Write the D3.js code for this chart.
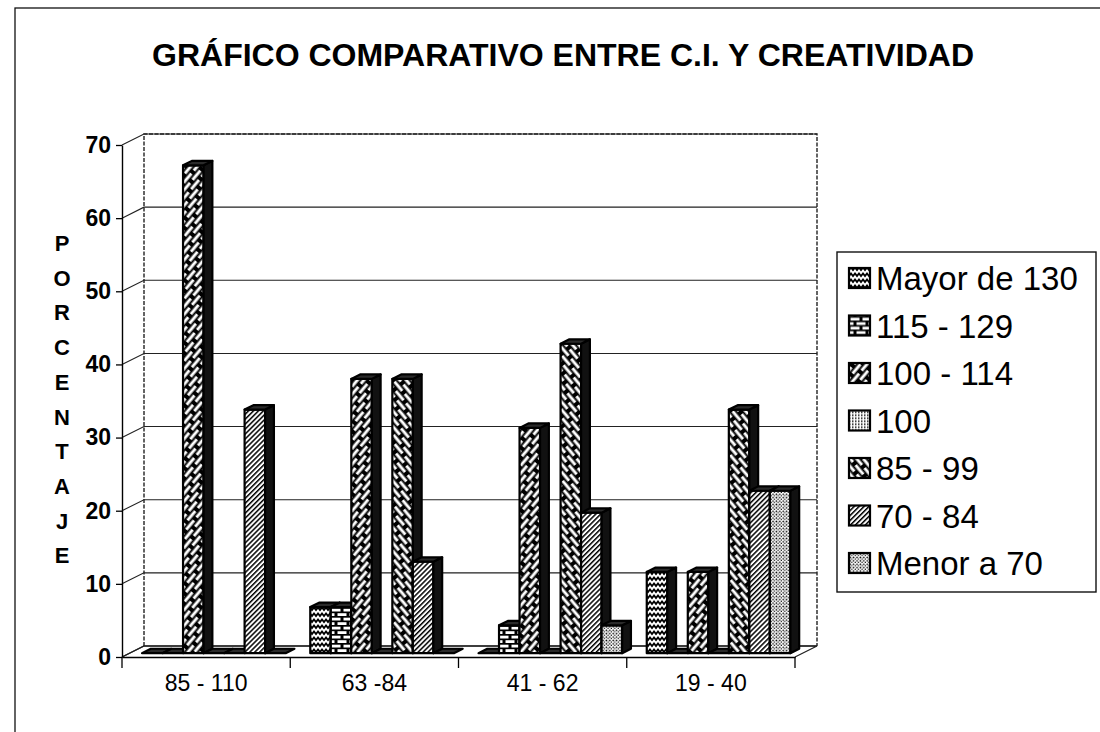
<!DOCTYPE html>
<html>
<head>
<meta charset="utf-8">
<title>Gráfico comparativo entre C.I. y creatividad</title>
<script src="https://cdn.jsdelivr.net/npm/d3@7"></script>
<style>
    body { margin: 0; background: #fff; }
    svg { display: block; font-family: "Liberation Sans", Arial, sans-serif; }
    .tick text { fill: #000; }
</style>
</head>
<body>
<svg width="1100" height="732"></svg>

<script>
    // datos
    const categories = ["85 - 110", "63 -84", "41 - 62", "19 - 40"];
    const seriesNames = ["Mayor de 130", "115 - 129", "100 - 114", "100", "85 - 99", "70 - 84", "Menor a 70"];
    const mayor130 = [0, 6.3, 0, 11.1];
    const r115_129 = [0, 6.3, 3.8, 0];
    const r100_114 = [66.7, 37.5, 30.8, 11.1];
    const r100 = [0, 0, 0, 0];
    const r85_99 = [0, 37.5, 42.3, 33.3];
    const r70_84 = [33.3, 12.5, 19.2, 22.2];
    const menor70 = [0, 0, 3.8, 22.2];
    const yTicks = [0, 10, 20, 30, 40, 50, 60, 70];
    const axisTitle = "PORCENTAJE";

    const seriesValues = [mayor130, r115_129, r100_114, r100, r85_99, r70_84, menor70];
    const patternIds = ["pWave", "pBrick", "pWeaveA", "pFine", "pWeaveB", "pStripe", "pDots"];

    const svg = d3.select("svg");

    // marco exterior
    svg.append("rect")
        .attr("x", 15).attr("y", 8)
        .attr("width", 1100).attr("height", 760)
        .attr("fill", "none").attr("stroke", "#111").attr("stroke-width", 1.3);

    // tramas
    const defs = svg.append("defs");

    let p = defs.append("pattern").attr("id", "pWave").attr("patternUnits", "userSpaceOnUse")
        .attr("width", 8).attr("height", 6);
    p.append("rect").attr("width", 8).attr("height", 6).attr("fill", "#fff");
    p.append("path").attr("d", "M-2,1.5 L0,4 L2,1.5 L4,4 L6,1.5 L8,4 L10,1.5")
        .attr("fill", "none").attr("stroke", "#000").attr("stroke-width", 1.8);

    p = defs.append("pattern").attr("id", "pBrick").attr("patternUnits", "userSpaceOnUse")
        .attr("width", 12).attr("height", 9);
    p.append("rect").attr("width", 12).attr("height", 9).attr("fill", "#000");
    p.append("rect").attr("x", 1.5).attr("y", 1.2).attr("width", 9).attr("height", 2.8).attr("fill", "#fff");
    p.append("rect").attr("x", -4.5).attr("y", 5.7).attr("width", 9).attr("height", 2.8).attr("fill", "#fff");
    p.append("rect").attr("x", 7.5).attr("y", 5.7).attr("width", 9).attr("height", 2.8).attr("fill", "#fff");

    function weave(id, angle) {
        const q = defs.append("pattern").attr("id", id).attr("patternUnits", "userSpaceOnUse")
            .attr("width", 16).attr("height", 10)
            .attr("patternTransform", `rotate(${angle})`);
        q.append("rect").attr("width", 16).attr("height", 10).attr("fill", "#000");
        q.append("rect").attr("x", 2).attr("y", 1.6).attr("width", 12).attr("height", 3).attr("fill", "#fff");
        q.append("rect").attr("x", -6).attr("y", 6.6).attr("width", 12).attr("height", 3).attr("fill", "#fff");
        q.append("rect").attr("x", 10).attr("y", 6.6).attr("width", 12).attr("height", 3).attr("fill", "#fff");
    }
    weave("pWeaveA", -50);
    weave("pWeaveB", 50);

    p = defs.append("pattern").attr("id", "pFine").attr("patternUnits", "userSpaceOnUse")
        .attr("width", 3).attr("height", 3);
    p.append("rect").attr("width", 3).attr("height", 3).attr("fill", "#fff");
    p.append("rect").attr("width", 1.5).attr("height", 1.5).attr("fill", "#000");

    p = defs.append("pattern").attr("id", "pStripe").attr("patternUnits", "userSpaceOnUse")
        .attr("width", 3.5).attr("height", 3.5).attr("patternTransform", "rotate(45)");
    p.append("rect").attr("width", 3.5).attr("height", 3.5).attr("fill", "#fff");
    p.append("rect").attr("width", 1.5).attr("height", 3.5).attr("fill", "#000");

    p = defs.append("pattern").attr("id", "pDots").attr("patternUnits", "userSpaceOnUse")
        .attr("width", 3.4).attr("height", 3.4);
    p.append("rect").attr("width", 3.4).attr("height", 3.4).attr("fill", "#fff");
    p.append("circle").attr("cx", 1.2).attr("cy", 1.2).attr("r", 0.85).attr("fill", "#000");
    p.append("circle").attr("cx", 2.9).attr("cy", 2.9).attr("r", 0.7).attr("fill", "#000");

    // escalas (plano frontal) y profundidad 3D
    const x = d3.scaleBand().domain(categories).range([122, 795]).padding(0);
    const xs = d3.scaleBand().domain(seriesNames).range([0, x.bandwidth()])
        .paddingInner(0).paddingOuter(0.6);
    const y = d3.scaleLinear().domain([0, 70]).range([657, 145]);
    const DX = 22, DY = -11;
    const f0 = 0.35, f1 = 0.75;

    const wall = svg.append("g").attr("stroke", "#222").attr("fill", "none");

    // lineas de division en pared trasera y lateral
    wall.selectAll(".grid")
        .data(yTicks)
        .join("path")
        .attr("class", "grid")
        .attr("stroke-width", 1.1)
        .attr("d", d => `M${x.range()[0]},${y(d)} L${x.range()[0] + DX},${y(d) + DY} L${x.range()[1] + DX},${y(d) + DY}`);

    // bordes de las paredes
    wall.append("path")
        .attr("stroke-width", 1.4)
        .attr("stroke-dasharray", "4,1.5")
        .attr("d", `M${x.range()[0] + DX},${y(0) + DY} V${y(70) + DY} H${x.range()[1] + DX} V${y(0) + DY}`);

    // piso
    wall.append("path")
        .attr("stroke-width", 1.3)
        .attr("d", `M${x.range()[0]},${y(0)} L${x.range()[0] + DX},${y(0) + DY} H${x.range()[1] + DX} L${x.range()[1]},${y(0)}`);

    // barras
    const bars = [];
    categories.forEach((c, i) => {
        seriesNames.forEach((s, j) => {
            bars.push({ cat: c, series: s, value: seriesValues[j][i], pat: patternIds[j] });
        });
    });

    const w = xs.bandwidth();
    const dd = f1 - f0;
    const barG = svg.append("g")
        .attr("stroke", "#000").attr("stroke-width", 2.2).attr("stroke-linejoin", "round");

    bars.forEach(b => {
        const x0 = x(b.cat) + xs(b.series) + f0 * DX;
        const yT = y(b.value) + f0 * DY;
        const yB = y(0) + f0 * DY;
        const g = barG.append("g");
        if (b.value > 0) {
            g.append("rect")
                .attr("x", x0).attr("y", yT)
                .attr("width", w).attr("height", yB - yT)
                .attr("fill", `url(#${b.pat})`);
            g.append("path")
                .attr("fill", "#111")
                .attr("d", `M${x0 + w},${yT} L${x0 + w + dd * DX},${yT + dd * DY} L${x0 + w + dd * DX},${yB + dd * DY} L${x0 + w},${yB} Z`);
        }
        g.append("path")
            .attr("fill", "#2a2a2a")
            .attr("d", `M${x0},${yT} L${x0 + dd * DX},${yT + dd * DY} L${x0 + w + dd * DX},${yT + dd * DY} L${x0 + w},${yT} Z`);
    });

    // eje Y
    const yAxis = svg.append("g")
        .attr("transform", `translate(${x.range()[0]},0)`)
        .call(d3.axisLeft(y).tickValues(yTicks).tickSize(6).tickSizeOuter(0).tickPadding(5));
    yAxis.select(".domain").attr("stroke", "#000").attr("stroke-width", 1.4);
    yAxis.selectAll(".tick line").attr("stroke", "#000").attr("stroke-width", 1.3);
    yAxis.selectAll(".tick text")
        .attr("font-size", 23).attr("font-weight", "bold")
        .attr("font-family", "Liberation Sans, Arial, sans-serif");

    // eje X
    const xAxis = svg.append("g")
        .attr("transform", `translate(0,${y(0)})`)
        .call(d3.axisBottom(x).tickSize(0).tickPadding(18));
    xAxis.select(".domain").attr("stroke", "#000").attr("stroke-width", 1.4);
    xAxis.selectAll(".tick text")
        .attr("font-size", 23)
        .attr("font-family", "Liberation Sans, Arial, sans-serif");
    xAxis.selectAll(".sep")
        .data(categories.map(c => x(c)).concat([x.range()[1]]))
        .join("line")
        .attr("class", "sep")
        .attr("x1", d => d).attr("x2", d => d)
        .attr("y1", 0).attr("y2", 11)
        .attr("stroke", "#000").attr("stroke-width", 1.3);

    // titulo del eje Y (letras apiladas)
    svg.append("g")
        .selectAll("text")
        .data(axisTitle.split(""))
        .join("text")
        .attr("x", 62)
        .attr("y", (d, i) => 251 + i * 34.7)
        .attr("text-anchor", "middle")
        .attr("font-size", 22)
        .attr("font-weight", "bold")
        .text(d => d);

    // titulo
    svg.append("text")
        .attr("x", 563).attr("y", 66)
        .attr("text-anchor", "middle")
        .attr("font-size", 32)
        .attr("font-weight", "bold")
        .text("GRÁFICO COMPARATIVO ENTRE C.I. Y CREATIVIDAD");

    // leyenda
    const legend = svg.append("g");
    legend.append("rect")
        .attr("x", 837).attr("y", 252)
        .attr("width", 259).attr("height", 340)
        .attr("fill", "#fff").attr("stroke", "#111").attr("stroke-width", 1.4);

    const item = legend.selectAll(".item")
        .data(seriesNames)
        .join("g")
        .attr("class", "item")
        .attr("transform", (d, i) => `translate(849,${278 + i * 47.5})`);
    item.append("rect")
        .attr("x", 0).attr("y", -10)
        .attr("width", 21).attr("height", 20)
        .attr("fill", (d, i) => `url(#${patternIds[i]})`)
        .attr("stroke", "#000").attr("stroke-width", 2.2);
    item.append("text")
        .attr("x", 27).attr("y", 12)
        .attr("font-size", 33)
        .text(d => d);
</script>
</body>
</html>
